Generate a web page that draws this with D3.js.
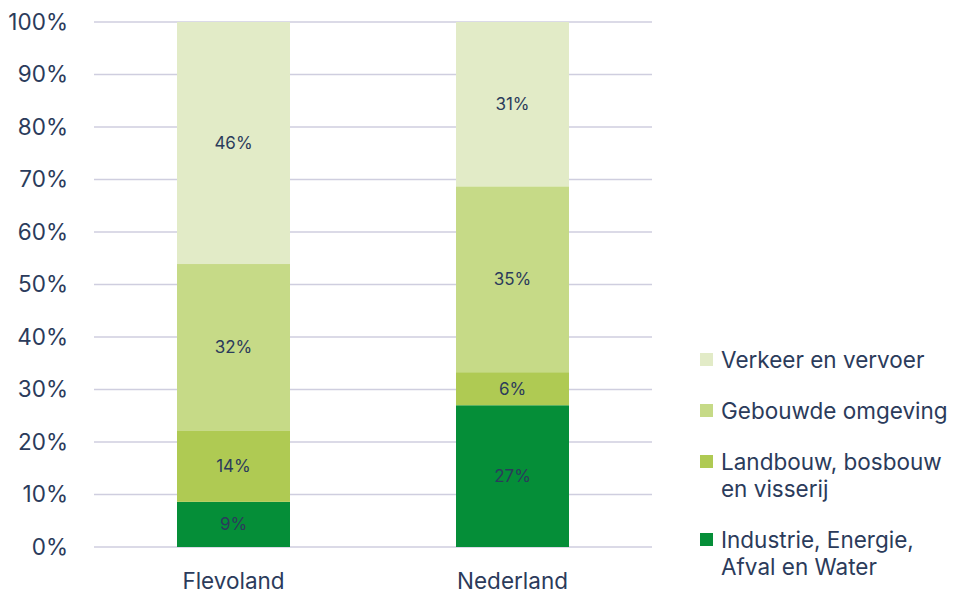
<!DOCTYPE html>
<html>
<head>
<meta charset="utf-8">
<script src="https://cdn.jsdelivr.net/npm/d3@7"></script>
<style>
  body { margin: 0; background: #fff; }
  svg { display: block; font-family: Inter, sans-serif; }
</style>
</head>
<body>
<div class="chart"></div>
<script>
// regions on the x axis
var regions = ['Flevoland', 'Nederland'];

// sectors, bottom to top
var sectors = ['Industrie, Energie, Afval en Water', 'Landbouw, bosbouw en visserij', 'Gebouwde omgeving', 'Verkeer en vervoer'];

// shares in percent, per region, in sector order
var flevoland = [8.6, 13.5, 31.8, 46.1];
var nederland = [27.0, 6.3, 35.4, 31.3];

// legend, top to bottom, with the line breaks used in the picture
var legendLines = [
  ['Verkeer en vervoer'],
  ['Gebouwde omgeving'],
  ['Landbouw, bosbouw', 'en visserij'],
  ['Industrie, Energie,', 'Afval en Water']
];

var yTicks = [0, 10, 20, 30, 40, 50, 60, 70, 80, 90, 100];

var colors = ['#058e38', '#afca53', '#c6da87', '#e2ebc7'];
var textColor = '#2b3b5b';
var fontSize = 22.5;

var width = 959, height = 593;
var plot = {left: 94, right: 652, top: 22, bottom: 547};

var svg = d3.select('.chart').append('svg')
  .attr('width', width)
  .attr('height', height);

var x = d3.scaleBand()
  .domain(regions)
  .range([plot.left, plot.right])
  .paddingInner(0.595)
  .paddingOuter(0.2975);

var y = d3.scaleLinear()
  .domain([0, 100])
  .range([plot.bottom, plot.top]);

// gridlines
svg.append('g')
  .selectAll('line')
  .data(yTicks)
  .enter().append('line')
    .attr('x1', plot.left)
    .attr('x2', plot.right)
    .attr('y1', d => y(d))
    .attr('y2', d => y(d))
    .attr('stroke', '#cfcedf')
    .attr('stroke-width', 1.5);

// y axis labels
var yAxis = d3.axisLeft(y)
  .tickValues(yTicks)
  .tickSize(0)
  .tickPadding(0)
  .tickFormat(d => d + '%');

var gY = svg.append('g')
  .attr('transform', 'translate(68, 0)')
  .call(yAxis);
gY.select('.domain').remove();
gY.selectAll('text')
  .attr('fill', textColor)
  .attr('font-size', fontSize)
  .attr('font-family', 'Inter, sans-serif');

// x axis labels
var xAxis = d3.axisBottom(x).tickSize(0).tickPadding(0);
var gX = svg.append('g')
  .attr('transform', `translate(0, ${plot.bottom + 26})`)
  .call(xAxis);
gX.select('.domain').remove();
gX.selectAll('text')
  .attr('fill', textColor)
  .attr('font-size', fontSize)
  .attr('font-family', 'Inter, sans-serif');

// stacked bars
var table = regions.map((r, i) => {
  var vals = i === 0 ? flevoland : nederland;
  var row = {region: r};
  sectors.forEach((s, j) => row[s] = vals[j]);
  return row;
});

var stack = d3.stack().keys(sectors);
var series = stack(table);

var layer = svg.append('g')
  .selectAll('g')
  .data(series)
  .enter().append('g')
    .attr('fill', (d, i) => colors[i]);

layer.selectAll('rect')
  .data(d => d)
  .enter().append('rect')
    .attr('x', d => x(d.data.region))
    .attr('width', x.bandwidth())
    .attr('y', d => y(d[1]))
    .attr('height', d => y(d[0]) - y(d[1]));

layer.selectAll('text')
  .data(d => d)
  .enter().append('text')
    .attr('x', d => x(d.data.region) + x.bandwidth() / 2)
    .attr('y', d => (y(d[0]) + y(d[1])) / 2)
    .attr('dy', '0.35em')
    .attr('text-anchor', 'middle')
    .attr('fill', textColor)
    .attr('font-size', 17)
    .text(d => Math.round(d[1] - d[0]) + '%');

// legend
var legendTop = [360, 411, 462, 540];
var legendColors = colors.slice().reverse();

var legend = svg.append('g')
  .selectAll('g')
  .data(legendLines)
  .enter().append('g')
    .attr('transform', (d, i) => `translate(700, ${legendTop[i]})`);

legend.append('rect')
  .attr('y', -7)
  .attr('width', 13)
  .attr('height', 13)
  .attr('fill', (d, i) => legendColors[i]);

legend.append('text')
  .attr('x', 21)
  .attr('fill', textColor)
  .attr('font-size', fontSize)
  .selectAll('tspan')
  .data(d => d)
  .enter().append('tspan')
    .attr('x', 21)
    .attr('y', (d, i) => i * 27)
    .attr('dy', '0.35em')
    .text(d => d);
</script>
</body>
</html>
